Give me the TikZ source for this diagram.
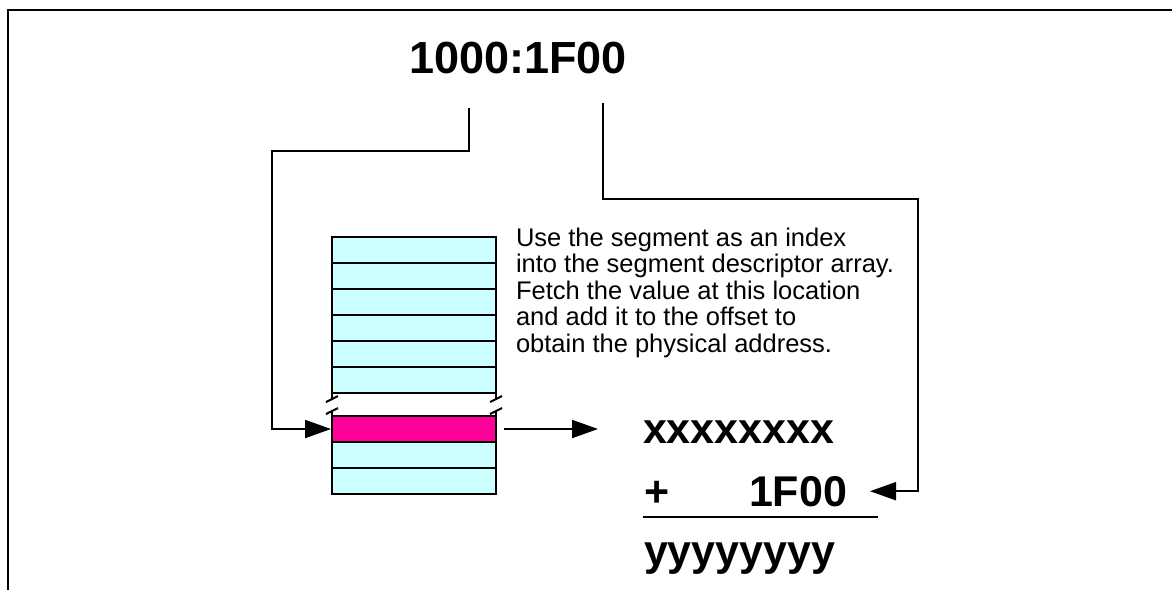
\documentclass[tikz,border=0pt]{standalone}
\usepackage{fontspec}
\setmainfont{Liberation Sans}
\usetikzlibrary{arrows.meta}
\definecolor{cellblue}{RGB}{204,255,255}
\definecolor{hitpink}{RGB}{255,0,153}
\tikzstyle{cell}=[draw, fill=cellblue, inner sep=0pt, minimum width=164pt, minimum height=26pt]
\tikzstyle{hitcell}=[cell, fill=hitpink]
\tikzstyle{conn}=[-{Triangle[length=26pt,width=18pt]}]
\tikzstyle{big}=[inner sep=0pt, font=\fontsize{43}{50}\selectfont\bfseries]

\begin{document}
\begin{tikzpicture}[x=1pt, y=-1pt, line width=2pt]
    \useasboundingbox (0,0) rectangle (1172,590);
    \draw (1172,9.5) -- (7.5,9.5) -- (7.5,590);
    \node[big, font=\fontsize{45}{54}\selectfont\bfseries, anchor=base] (addr) at (518,73) {1000:1F00};
    \coordinate (seg) at (469,108);
    \coordinate (off) at (603,103);
    % descriptor array
    \foreach \i in {1,...,6}
        \node[cell] (row\i) at (414,{250+26*(\i-1)}) {};
    \node[hitcell] (hit) at (414,429) {};
    \node[cell] (low1) at (414,455) {};
    \node[cell] (low2) at (414,481) {};
    \foreach \x in {332,496} {
        \draw (\x,393) -- (\x,399);
        \draw (\x,411) -- (\x,416);
        \draw (\x-6,402) -- (\x+6,396);
        \draw (\x-6,414) -- (\x+6,408);
    }
    \node[anchor=north west, inner sep=0pt, align=left, font=\fontsize{25.5}{26.5}\selectfont] (note) at (515,226.8)
        {Use the segment as an index\\into the segment descriptor array.\\Fetch the value at this location\\and add it to the offset to\\obtain the physical address.};
    % the sum
    \node[big, anchor=base west] (base) at (642,443) {xxxxxxxx};
    \node[big, anchor=base west] (plus) at (643,506) {+};
    \node[big, anchor=base east] (sum) at (848,506) {1F00};
    \node[big, anchor=base west] (phys) at (643,565) {yyyyyyyy};
    \draw (643,517) -- (878,517);
    % connectors
    \draw[conn] (seg) -- ++(0,43) -| ([xshift=-59pt]hit.west) -- (hit.west);
    \draw[conn] (off) -- ++(0,96) -| ([xshift=70pt]sum.east) -- ([xshift=22pt]sum.east);
    \draw[conn] ([xshift=7pt]hit.east) -- ++(94,0);
\end{tikzpicture}
\end{document}
